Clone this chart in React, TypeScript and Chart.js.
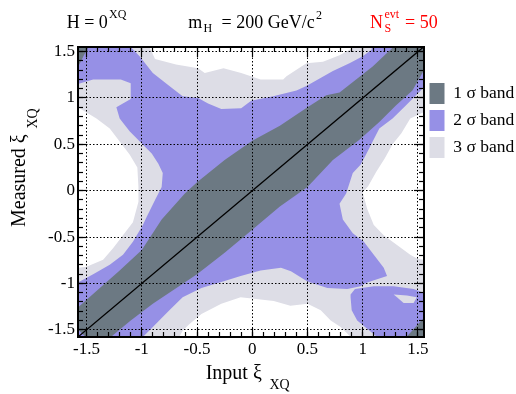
import React, { useEffect, useRef } from 'react';
import { Chart, registerables } from 'chart.js';

Chart.register(...registerables);

// ---- axis ranges and ticks ----
const X_MIN = -1.578;
const X_MAX = 1.55;
const Y_MIN = -1.578;
const Y_MAX = 1.55;
const MAJOR_STEP = 0.5;
const MINOR_STEP = 0.1;

// ---- legend ----
const bandLabels = ['1 σ band', '2 σ band', '3 σ band'];
const bandColors = ['rgb(108,121,131)', 'rgb(150,144,230)', 'rgb(221,221,230)'];

type P = [number, number];

// diagonal reference line (measured = input)
const diagonal: P[] = [[-1.7, -1.7], [1.7, 1.7]];

// 1 sigma band: upper edge left->right, then lower edge right->left
const sigma1Band: P[] = [
  [-1.7, -1.36], [-1.578, -1.26], [-1.4, -1.07], [-1.2, -0.86], [-1.0, -0.64], [-0.82, -0.31],
  [-0.61, -0.03], [-0.5, 0.09], [-0.25, 0.33], [0.0, 0.54], [0.25, 0.7], [0.5, 0.9], [0.67, 1.03],
  [0.79, 1.06], [0.94, 1.2], [1.09, 1.34], [1.26, 1.53], [1.4, 1.7],
  [1.7, 1.45], [1.55, 1.29], [1.45, 1.08], [1.3, 0.92], [1.15, 0.74], [0.97, 0.55], [0.73, 0.33],
  [0.5, 0.04], [0.25, -0.17], [0.0, -0.42], [-0.25, -0.67], [-0.5, -0.9], [-0.7, -1.06],
  [-0.9, -1.22], [-1.1, -1.4], [-1.28, -1.578], [-1.4, -1.7],
];
const sigma1CornerTL: P[] = [[-1.443, 1.65], [-1.625, 1.22], [-1.75, 1.75]];
const sigma1CornerBR: P[] = [[1.345, -1.643], [1.598, -1.315], [1.75, -1.75]];

// 2 sigma region (X shape)
const sigma2Main: P[] = [
  [-1.75, 1.75], [-1.08, 1.75], [-1.1, 1.55], [-1.02, 1.45], [-0.9, 1.27], [-0.75, 1.13], [-0.63, 1.02],
  [-0.49, 1.0], [-0.4, 0.94], [-0.28, 0.88], [-0.1, 0.89], [-0.01, 0.97], [0.19, 1.02], [0.4, 1.08],
  [0.49, 1.13], [0.73, 1.29], [0.88, 1.375], [1.0, 1.45], [1.08, 1.52], [1.1, 1.75], [1.75, 1.75],
  [1.75, 1.11], [1.55, 1.11], [1.39, 0.92], [1.27, 0.78], [1.15, 0.67], [1.09, 0.53], [1.03, 0.39],
  [0.98, 0.28], [0.91, 0.19], [0.85, -0.03], [0.79, -0.14], [0.82, -0.31], [0.91, -0.46], [1.01, -0.55],
  [1.1, -0.69], [1.19, -0.83], [1.22, -0.92], [1.04, -0.99], [0.98, -1.03], [0.86, -1.06], [0.68, -1.05],
  [0.5, -0.98], [0.35, -0.87], [0.26, -0.83], [0.075, -0.86], [-0.105, -0.92], [-0.25, -0.975],
  [-0.46, -1.05], [-0.63, -1.15], [-0.75, -1.29], [-0.9, -1.47], [-0.99, -1.578], [-1.0, -1.75],
  [-1.75, -1.75], [-1.75, -0.99], [-1.578, -0.99], [-1.44, -0.9], [-1.29, -0.8], [-1.17, -0.69],
  [-1.08, -0.55], [-0.99, -0.37], [-0.955, -0.28], [-0.88, -0.1], [-0.82, 0.04], [-0.81, 0.19],
  [-0.85, 0.29], [-0.91, 0.4], [-1.0, 0.51], [-1.11, 0.64], [-1.2, 0.78], [-1.23, 0.9], [-1.1, 0.99],
  [-1.1, 1.16], [-1.19, 1.2], [-1.44, 1.2], [-1.578, 1.15], [-1.75, 1.15],
];
const sigma2Blob: P[] = [
  [0.89, -1.12], [0.93, -1.06], [1.1, -1.03], [1.28, -1.03], [1.46, -1.06], [1.55, -1.1], [1.75, -1.1],
  [1.75, -1.75], [1.13, -1.75], [1.13, -1.578], [1.04, -1.49], [0.95, -1.4], [0.9, -1.29], [0.89, -1.15],
];

// 3 sigma region
const sigma3Hole: P[] = [[1.28, -1.12], [1.4, -1.13], [1.49, -1.15], [1.46, -1.21], [1.37, -1.21], [1.31, -1.15]];
const sigma3Main: P[] = [
  [-1.75, 1.75], [-0.93, 1.75], [-0.93, 1.55], [-0.88, 1.42], [-0.69, 1.36], [-0.49, 1.32], [-0.43, 1.27],
  [-0.26, 1.32], [-0.1, 1.27], [0.075, 1.2], [0.28, 1.2], [0.31, 1.235], [0.49, 1.375], [0.64, 1.39],
  [0.79, 1.46], [0.88, 1.52], [0.92, 1.55], [0.93, 1.75], [1.75, 1.75], [1.75, 0.84], [1.54, 0.84],
  [1.43, 0.78], [1.35, 0.62], [1.27, 0.5], [1.2, 0.35], [1.12, 0.2], [1.05, 0.05], [1.0, -0.02],
  [1.04, -0.195], [1.1, -0.37], [1.19, -0.48], [1.31, -0.585], [1.43, -0.69], [1.49, -0.73], [1.55, -0.745],
  [1.75, -0.745], [1.75, -1.75], [0.89, -1.75], [0.89, -1.578], [0.86, -1.54], [0.8, -1.47], [0.71, -1.4],
  [0.62, -1.29], [0.5, -1.22], [0.345, -1.24], [0.195, -1.19], [-0.105, -1.15], [-0.28, -1.22],
  [-0.46, -1.33], [-0.57, -1.44], [-0.63, -1.51], [-0.66, -1.578], [-0.66, -1.75], [-1.75, -1.75],
  [-1.75, -0.83], [-1.578, -0.83], [-1.5, -0.82], [-1.35, -0.745], [-1.26, -0.62], [-1.17, -0.48],
  [-1.08, -0.34], [-1.03, -0.12], [-1.03, 0.04], [-1.04, 0.25], [-1.11, 0.39], [-1.2, 0.53],
  [-1.29, 0.67], [-1.41, 0.78], [-1.578, 0.9], [-1.75, 0.9],
];

const SERIF = "'Liberation Serif', 'Times New Roman', serif";

function Txt(props: { x: number; b: number; s: number; color?: string; children: React.ReactNode }) {
  const { x, b, s, color = '#000', children } = props;
  return (
    <span
      style={{
        position: 'absolute',
        left: x,
        top: b - 0.8375 * s,
        fontSize: s,
        lineHeight: 1,
        fontFamily: SERIF,
        color,
        whiteSpace: 'pre',
      }}
    >
      {children}
    </span>
  );
}

const fmtTick = (v: number | string) => String(Math.round(Number(v) * 100) / 100);

export default function App() {
  const ref = useRef<HTMLCanvasElement | null>(null);

  useEffect(() => {
    if (!ref.current) return;
    const toXY = (pts: P[]) => pts.map(([x, y]) => ({ x, y }));
    const poly = (pts: P[], band: number, legend: boolean) => ({
      label: bandLabels[band],
      data: toXY(pts),
      showLine: true,
      fill: 'shape',
      backgroundColor: bandColors[band],
      borderColor: bandColors[band],
      borderWidth: 0,
      pointRadius: 0,
      pointHoverRadius: 0,
      tension: 0,
      xAxisID: 'x',
      yAxisID: 'y',
      showInLegend: legend,
    });
    const datasets: any[] = [
      {
        label: 'diagonal',
        data: toXY(diagonal),
        showLine: true,
        fill: false,
        borderColor: '#000',
        backgroundColor: '#000',
        borderWidth: 1.3,
        pointRadius: 0,
        pointHoverRadius: 0,
        xAxisID: 'x',
        yAxisID: 'y',
        showInLegend: false,
      },
      poly(sigma1Band, 0, true),
      poly(sigma1CornerTL, 0, false),
      poly(sigma1CornerBR, 0, false),
      poly(sigma3Hole, 2, false),
      poly(sigma2Main, 1, true),
      poly(sigma2Blob, 1, false),
      poly(sigma3Main, 2, true),
    ];

    const tickFont = { family: SERIF, size: 17 };
    const minorAxis = (axis: 'x' | 'y', position: any, step: number, len: number, border: boolean) => ({
      type: 'linear',
      axis,
      position,
      min: axis === 'x' ? X_MIN : Y_MIN,
      max: axis === 'x' ? X_MAX : Y_MAX,
      ticks: { display: false, stepSize: step, includeBounds: false },
      grid: { drawOnChartArea: false, drawTicks: true, tickLength: len, tickColor: '#000', tickWidth: 1.2, z: 1 },
      border: { display: border, color: '#000', width: 2, z: 1 },
    });

    const chart = new Chart(ref.current, {
      type: 'scatter',
      data: { datasets },
      options: {
        responsive: false,
        animation: false,
        events: [],
        layout: { padding: { left: 36, top: 47, right: 0, bottom: 22.6 } },
        scales: {
          x: {
            type: 'linear',
            position: 'bottom',
            min: X_MIN,
            max: X_MAX,
            ticks: { stepSize: MAJOR_STEP, includeBounds: false, font: tickFont, color: '#000', padding: 11.5, maxRotation: 0, autoSkip: false, callback: fmtTick },
            grid: { color: '#000', lineWidth: 1, drawOnChartArea: true, drawTicks: true, tickLength: -9, tickColor: '#000', tickWidth: 1.2, z: 1 },
            border: { display: true, color: '#000', width: 2, dash: [1.5, 2], z: 1 },
          },
          y: {
            type: 'linear',
            position: 'left',
            min: Y_MIN,
            max: Y_MAX,
            ticks: { stepSize: MAJOR_STEP, includeBounds: false, font: tickFont, color: '#000', padding: 12, autoSkip: false, callback: fmtTick },
            grid: { color: '#000', lineWidth: 1, drawOnChartArea: true, drawTicks: true, tickLength: -9, tickColor: '#000', tickWidth: 1.2, z: 1 },
            border: { display: true, color: '#000', width: 2, dash: [1.5, 2], z: 1 },
          },
          xMinorB: minorAxis('x', { y: Y_MIN }, MINOR_STEP, -5, false),
          xTop: minorAxis('x', { y: Y_MAX }, MAJOR_STEP, 9, true),
          xMinorT: minorAxis('x', { y: Y_MAX }, MINOR_STEP, 5, false),
          yMinorL: minorAxis('y', { x: X_MIN }, MINOR_STEP, -5, false),
          yRight: minorAxis('y', { x: X_MAX }, MAJOR_STEP, 9, true),
          yMinorR: minorAxis('y', { x: X_MAX }, MINOR_STEP, 5, false),
        } as any,
        plugins: {
          tooltip: { enabled: false },
          title: { display: false },
          legend: {
            display: true,
            position: 'right',
            align: 'start',
            maxWidth: 92.5,
            title: { display: true, text: ' ', font: { size: 10 }, padding: { top: 18, bottom: 0 } },
            labels: {
              boxWidth: 15,
              boxHeight: 21,
              padding: 6,
              color: '#000',
              font: { family: SERIF, size: 17.5 },
              filter: (item: any, data: any) => !!data.datasets[item.datasetIndex].showInLegend,
            },
          },
        },
      } as any,
    });
    return () => chart.destroy();
  }, []);

  return (
    <div style={{ position: 'fixed', left: 0, top: 0, width: 516, height: 394, background: '#fff', overflow: 'hidden' }}>
      <canvas ref={ref} width={516} height={394} style={{ position: 'absolute', left: 0, top: 0, width: 516, height: 394 }} />
      {/* header */}
      <Txt x={66.7} b={28.3} s={18}>H = 0</Txt>
      <Txt x={109} b={18.5} s={12}>XQ</Txt>
      <Txt x={188.3} b={28.3} s={18}>m</Txt>
      <Txt x={203.5} b={32} s={12}>H</Txt>
      <Txt x={221.5} b={28.3} s={18}>= 200 GeV/c</Txt>
      <Txt x={316} b={19.5} s={12}>2</Txt>
      <Txt x={370} b={28.3} s={18} color="#ff0000">N</Txt>
      <Txt x={384.5} b={18.5} s={12} color="#ff0000">evt</Txt>
      <Txt x={384.5} b={32} s={12} color="#ff0000">S</Txt>
      <Txt x={405} b={28.3} s={18} color="#ff0000">= 50</Txt>
      {/* x axis title */}
      <Txt x={205.7} b={378.3} s={20}>Input ξ</Txt>
      <Txt x={269.5} b={389.5} s={14}>XQ</Txt>
      {/* y axis title (rotated) */}
      <div style={{ position: 'absolute', left: 25, top: 226.7, width: 0, height: 0, transformOrigin: '0 0', transform: 'rotate(-90deg)' }}>
        <Txt x={0} b={0} s={20}>Measured ξ</Txt>
        <Txt x={98.5} b={12.5} s={14}>XQ</Txt>
      </div>
    </div>
  );
}
